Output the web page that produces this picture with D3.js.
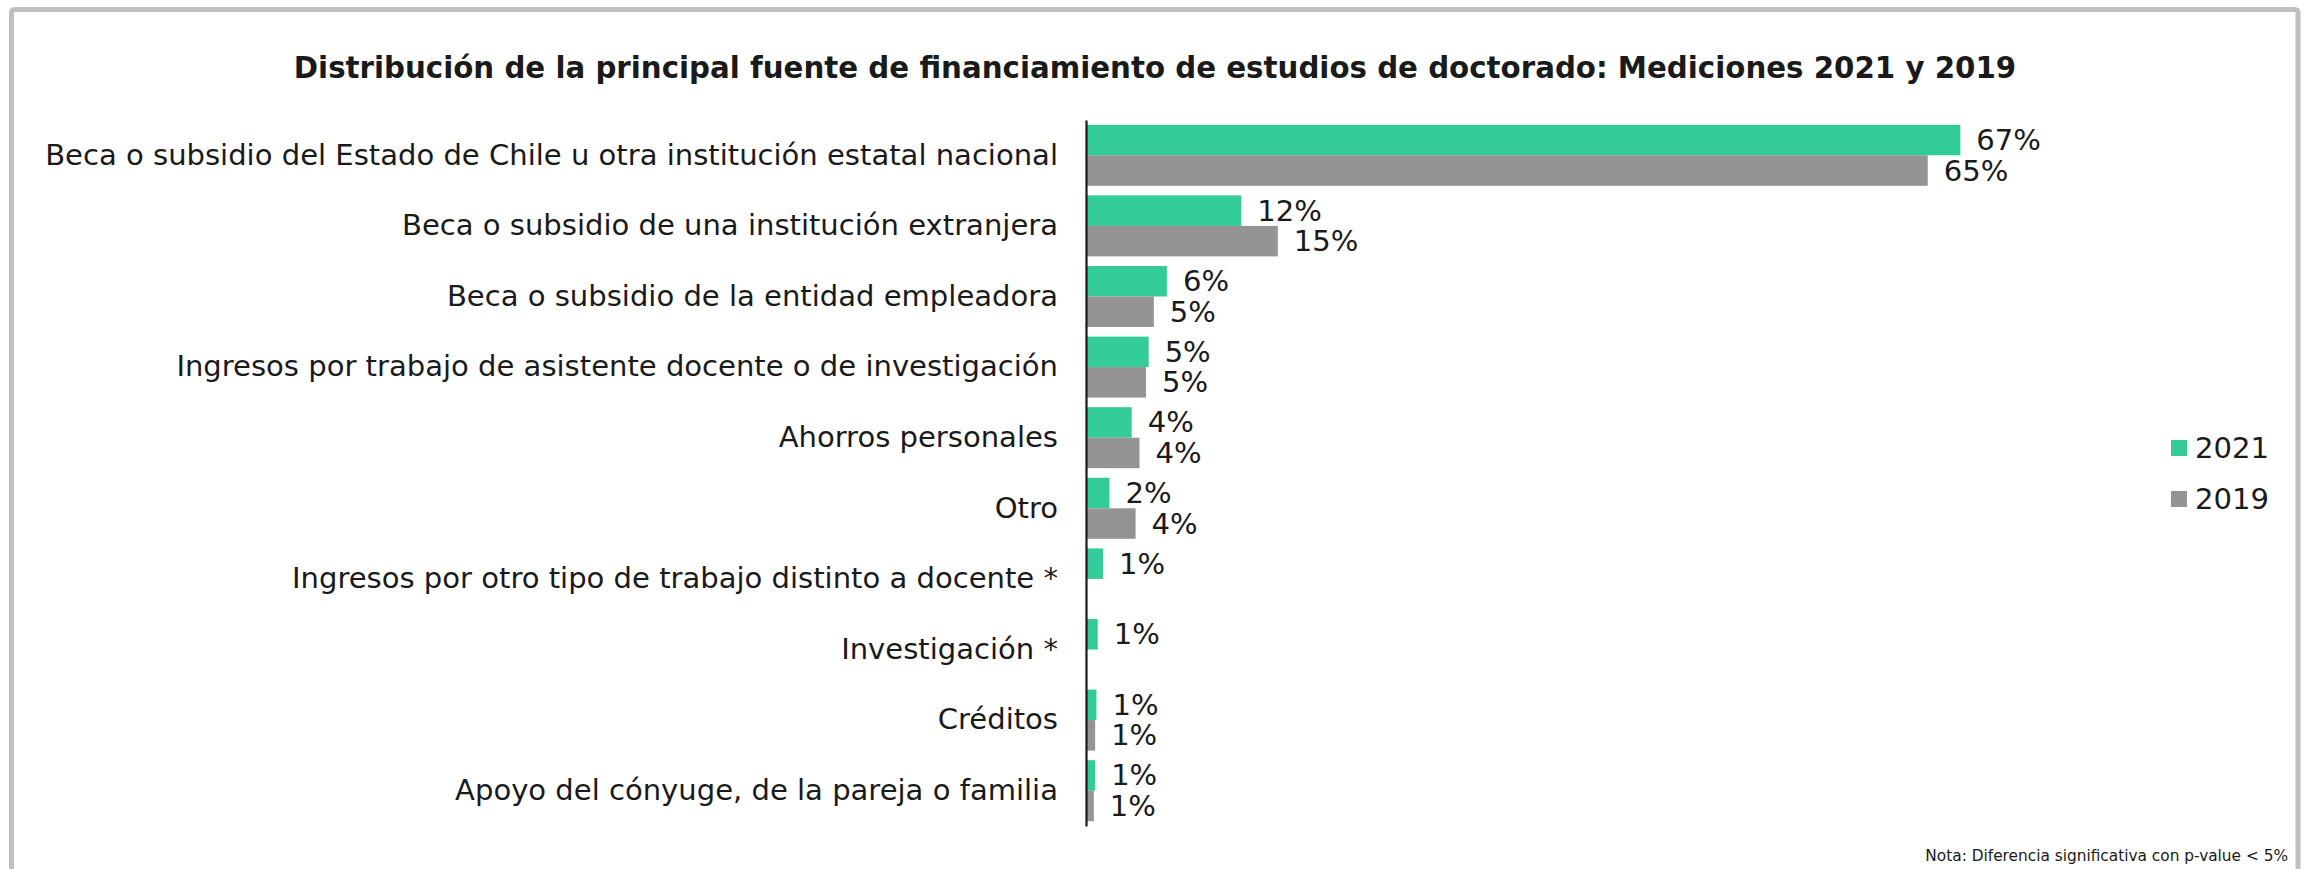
<!DOCTYPE html>
<html><head><meta charset="utf-8">
<script src="https://cdn.jsdelivr.net/npm/d3@7/dist/d3.min.js"></script>
<style>
html,body{margin:0;padding:0;background:#fff;}
svg{display:block;}
text{font-family:"DejaVu Sans","Noto Sans",sans-serif;fill:#1a1a1a;}
</style></head>
<body>
<svg id="chart" width="2310" height="869"></svg>
<script>
const title = "Distribución de la principal fuente de financiamiento de estudios de doctorado: Mediciones 2021 y 2019";
const note = "Nota: Diferencia significativa con p-value < 5%";
const categories = [
  "Beca o subsidio del Estado de Chile u otra institución estatal nacional",
  "Beca o subsidio de una institución extranjera",
  "Beca o subsidio de la entidad empleadora",
  "Ingresos por trabajo de asistente docente o de investigación",
  "Ahorros personales",
  "Otro",
  "Ingresos por otro tipo de trabajo distinto a docente *",
  "Investigación *",
  "Créditos",
  "Apoyo del cónyuge, de la pareja o familia"
];
const seriesNames = ["2021", "2019"];
const values2021 = [67.0, 11.9, 6.2, 4.8, 3.5, 1.8, 1.3, 0.9, 0.8, 0.7];
const values2019 = [64.5, 14.7, 5.2, 4.6, 4.1, 3.8, null, null, 0.7, 0.6];
const colors = ["#33cc99", "#949494"];

const svg = d3.select("#chart");
svg.append("rect").attr("width", 2310).attr("height", 869).attr("fill", "#fff");
svg.append("rect").attr("x", 11.5).attr("y", 9.5).attr("width", 2286.5).attr("height", 920)
  .attr("rx", 3).attr("fill", "none").attr("stroke", "#c0c0c0").attr("stroke-width", 5);

// fit helper: scale font size so a text reaches a target width
function fit(sel, target) {
  const fs = parseFloat(sel.attr("font-size"));
  const w = sel.node().getComputedTextLength();
  sel.attr("font-size", fs * target / w);
  return fs * target / w;
}

const t = svg.append("text").attr("x", 1155).attr("y", 68).attr("text-anchor", "middle")
  .attr("dominant-baseline", "central").attr("font-weight", "bold").attr("font-size", 30).text(title);
fit(t, 1723);

const y = d3.scaleBand().domain(categories).range([120, 826]).paddingInner(0.136).paddingOuter(0.068);
const sub = d3.scaleBand().domain(seriesNames).range([0, y.bandwidth()]);
const x = d3.scaleLinear().domain([0, 70]).range([1086, 1086 + 70 * 13.05]);

const rows = categories.map((c, i) => ({cat: c, vals: [values2021[i], values2019[i]]}));

// measure label font size from the longest category
const probe = svg.append("text").attr("font-size", 28).text(categories[0]);
const labelSize = fit(probe, 1013);
probe.remove();

const g = svg.selectAll("g.row").data(rows).join("g").attr("class", "row")
  .attr("transform", d => `translate(0,${y(d.cat)})`);
g.selectAll("rect").data(d => d.vals.map((v, k) => ({v, k})).filter(e => e.v != null)).join("rect")
  .attr("x", x(0)).attr("y", e => sub(seriesNames[e.k]))
  .attr("width", e => x(e.v) - x(0)).attr("height", sub.bandwidth())
  .attr("fill", e => colors[e.k]);
g.selectAll("text.val").data(d => d.vals.map((v, k) => ({v, k})).filter(e => e.v != null)).join("text")
  .attr("class", "val")
  .attr("x", e => x(e.v) + 16).attr("y", e => sub(seriesNames[e.k]) + sub.bandwidth() / 2)
  .attr("dominant-baseline", "central").attr("font-size", labelSize)
  .text(e => Math.round(e.v) + "%");

const axis = svg.append("g").attr("transform", `translate(${x(0)},0)`)
  .call(d3.axisLeft(y).tickSize(0).tickPadding(28));
axis.select(".domain").attr("stroke", "#1a1a1a").attr("stroke-width", 2.2);
axis.selectAll(".tick text").attr("font-size", labelSize).attr("fill", "#1a1a1a")
  .attr("font-family", '"DejaVu Sans","Noto Sans",sans-serif').attr("dy", "0.32em");

// legend
const leg = svg.selectAll("g.leg").data(seriesNames).join("g").attr("class", "leg")
  .attr("transform", (d, i) => `translate(2171,${440 + i * 51})`);
leg.append("rect").attr("width", 16).attr("height", 16).attr("fill", (d, i) => colors[i]);
leg.append("text").attr("x", 24).attr("y", 8).attr("dominant-baseline", "central")
  .attr("font-size", labelSize).text(d => d);

const n = svg.append("text").attr("x", 2288).attr("y", 856).attr("text-anchor", "end")
  .attr("dominant-baseline", "central").attr("font-size", 15).attr("fill", "#333").text(note);
fit(n, 363);
</script>
</body></html>
